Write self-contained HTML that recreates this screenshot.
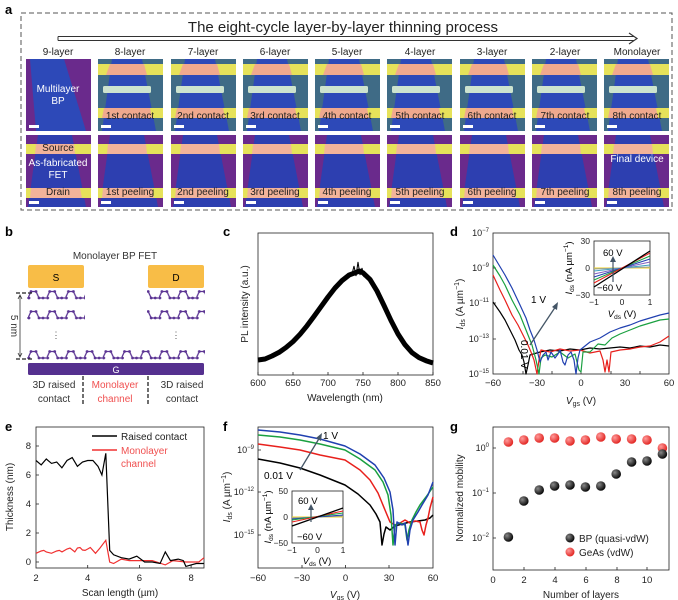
<!DOCTYPE html>
<html><head><meta charset="utf-8"><style>
html,body{margin:0;padding:0;background:#fff}
svg{display:block;font-family:"Liberation Sans",sans-serif}
</style></head><body>
<svg width="678" height="600" viewBox="0 0 678 600" xmlns="http://www.w3.org/2000/svg">
<defs>
<symbol id="topT" width="65" height="72" viewBox="0 0 65 72">
<rect width="65" height="72" fill="#3f6b86"/>
<path d="M14 0 L44 0 L58 72 L4 72 Z" fill="#2d49b8"/>
<rect y="5" width="65" height="11" fill="#e6e25a"/>
<path d="M12 5 H46 L49 16 H8 Z" fill="#f0a98e"/>
<rect x="5" y="27" width="48" height="7" rx="1.5" fill="#cde3cf"/>
<rect y="49" width="65" height="10" fill="#e6e25a"/>
<path d="M6 49 H52 L54 59 H4 Z" fill="#f0a98e"/>
<rect x="3" y="66" width="10" height="3" fill="#fff"/>
</symbol>
<symbol id="botT" width="65" height="72" viewBox="0 0 65 72">
<rect width="65" height="72" fill="#6a2a8c"/>
<path d="M12 0 L46 0 L60 72 L2 72 Z" fill="#2d3fb0"/>
<rect y="9" width="65" height="10" fill="#e6e25a"/>
<path d="M10 9 H48 L49 19 H9 Z" fill="#f2b39a"/>
<rect y="53" width="65" height="10" fill="#e6e25a"/>
<path d="M5 53 H54 L56 63 H4 Z" fill="#f2b39a"/>
<rect x="3" y="66" width="10" height="3" fill="#fff"/>
</symbol>
<symbol id="top9" width="65" height="72" viewBox="0 0 65 72">
<rect width="65" height="72" fill="#6a2a8c"/>
<path d="M4 0 L38 0 L60 72 L10 72 Z" fill="#2d49b8"/>
<rect x="3" y="66" width="10" height="3" fill="#fff"/>
</symbol>
<pattern id="lat" x="28" y="0" width="18.7" height="10" patternUnits="userSpaceOnUse">
<path d="M0 8 L3 1.5 L8 1.5 L11 8 L18.7 8" fill="none" stroke="#5b3493" stroke-width="1.3"/>
<circle cx="1" cy="8" r="1.4" fill="#5b3493"/><circle cx="3" cy="1.5" r="1.4" fill="#5b3493"/><circle cx="8" cy="1.5" r="1.4" fill="#5b3493"/><circle cx="11" cy="8" r="1.4" fill="#5b3493"/><circle cx="15" cy="8" r="1.4" fill="#5b3493"/>
</pattern>
<radialGradient id="gb" cx="0.35" cy="0.35" r="0.7"><stop offset="0" stop-color="#888"/><stop offset="1" stop-color="#000"/></radialGradient>
<radialGradient id="gr" cx="0.35" cy="0.35" r="0.7"><stop offset="0" stop-color="#ff9a9a"/><stop offset="1" stop-color="#e0201c"/></radialGradient>
</defs>

<!-- Panel a -->
<text x="5" y="14" font-size="13" font-weight="bold">a</text>
<rect x="21" y="13" width="651" height="197" fill="none" stroke="#555" stroke-width="1" stroke-dasharray="5,3"/>
<text x="343" y="32" font-size="15" text-anchor="middle" fill="#222">The eight-cycle layer-by-layer thinning process</text>
<path d="M58 36.5 H634 M58 40.5 H634 M58 36.5 V40.5" stroke="#333" stroke-width="1" fill="none"/>
<path d="M629 33 L637 38.5 L629 44" stroke="#333" stroke-width="1.2" fill="none"/>
<g font-size="10" text-anchor="middle" fill="#222">
<text x="58" y="55">9-layer</text><text x="130" y="55">8-layer</text><text x="203" y="55">7-layer</text><text x="275" y="55">6-layer</text><text x="347" y="55">5-layer</text><text x="420" y="55">4-layer</text><text x="492" y="55">3-layer</text><text x="565" y="55">2-layer</text><text x="637" y="55">Monolayer</text>
</g>
<use href="#top9" x="26" y="59" width="65" height="72"/>
<use href="#botT" x="26" y="135" width="65" height="72"/>
<g>
<use href="#topT" x="98" y="59"/><use href="#topT" x="171" y="59"/><use href="#topT" x="243" y="59"/><use href="#topT" x="315" y="59"/><use href="#topT" x="387" y="59"/><use href="#topT" x="460" y="59"/><use href="#topT" x="532" y="59"/><use href="#topT" x="604" y="59"/>
<use href="#botT" x="98" y="135"/><use href="#botT" x="171" y="135"/><use href="#botT" x="243" y="135"/><use href="#botT" x="315" y="135"/><use href="#botT" x="387" y="135"/><use href="#botT" x="460" y="135"/><use href="#botT" x="532" y="135"/><use href="#botT" x="604" y="135"/>
</g>
<g font-size="10" fill="#fff" text-anchor="middle">
<text x="58" y="92">Multilayer</text><text x="58" y="104">BP</text>
<text x="637" y="162">Final device</text>
</g>
<g font-size="10" fill="#222" text-anchor="middle">
<text x="58" y="151">Source</text>
<text x="58" y="166" fill="#fff">As-fabricated</text><text x="58" y="178" fill="#fff">FET</text>
<text x="58" y="195">Drain</text>
<text x="130" y="119">1st contact</text><text x="203" y="119">2nd contact</text><text x="275" y="119">3rd contact</text><text x="347" y="119">4th contact</text><text x="420" y="119">5th contact</text><text x="492" y="119">6th contact</text><text x="565" y="119">7th contact</text><text x="637" y="119">8th contact</text>
<text x="130" y="195">1st peeling</text><text x="203" y="195">2nd peeling</text><text x="275" y="195">3rd peeling</text><text x="347" y="195">4th peeling</text><text x="420" y="195">5th peeling</text><text x="492" y="195">6th peeling</text><text x="565" y="195">7th peeling</text><text x="637" y="195">8th peeling</text>
</g>

<!-- Panel b -->
<text x="5" y="236" font-size="13" font-weight="bold">b</text>
<text x="115" y="259" font-size="10" text-anchor="middle" fill="#333">Monolayer BP FET</text>
<rect x="28" y="265" width="56" height="23" rx="2" fill="#f8bd47"/>
<rect x="148" y="265" width="56" height="23" rx="2" fill="#f8bd47"/>
<text x="56" y="281" font-size="10" text-anchor="middle">S</text>
<text x="176" y="281" font-size="10" text-anchor="middle">D</text>
<g>
<rect x="27" y="290" width="58" height="10" fill="url(#lat)"/>
<rect x="27" y="310" width="58" height="10" fill="url(#lat)"/>
<rect x="147" y="290" width="58" height="10" fill="url(#lat)"/>
<rect x="147" y="310" width="58" height="10" fill="url(#lat)"/>
<rect x="27" y="350" width="178" height="10" fill="url(#lat)"/>
</g>
<text x="56" y="338" font-size="9" text-anchor="middle" fill="#555">⋮</text>
<text x="176" y="338" font-size="9" text-anchor="middle" fill="#555">⋮</text>
<rect x="28" y="363" width="176" height="12" rx="1.5" fill="#55308f"/>
<text x="116" y="373" font-size="9" text-anchor="middle" fill="#fff">G</text>
<path d="M16 293 H34 M16 359 H34" stroke="#222" stroke-width="1.3" stroke-dasharray="4,2"/>
<path d="M20 296 V356 M18 299 L20 295 L22 299 M18 353 L20 357 L22 353" stroke="#333" fill="none" stroke-width="0.8"/>
<text transform="translate(14,326) rotate(90)" font-size="10" text-anchor="middle" fill="#333" dy="3">5 nm</text>
<path d="M83 376 V405 M148 376 V405" stroke="#222" stroke-width="1.3" stroke-dasharray="4,2"/>
<g font-size="10" text-anchor="middle" fill="#333">
<text x="54" y="388">3D raised</text><text x="54" y="402">contact</text>
<text x="182" y="388">3D raised</text><text x="182" y="402">contact</text>
<text x="115" y="388" fill="#f05050">Monolayer</text><text x="115" y="402" fill="#f05050">channel</text>
</g>

<!-- Panel c -->
<text x="223" y="236" font-size="13" font-weight="bold">c</text>
<rect x="258" y="233" width="175" height="142" fill="none" stroke="#222" stroke-width="0.8"/>
<g stroke="#222" stroke-width="0.8"><path d="M258 375 v-3 M293 375 v-3 M328 375 v-3 M363 375 v-3 M398 375 v-3 M433 375 v-3"/></g>
<g font-size="9.5" text-anchor="middle" fill="#222">
<text x="258" y="386">600</text><text x="293" y="386">650</text><text x="328" y="386">700</text><text x="363" y="386">750</text><text x="398" y="386">800</text><text x="433" y="386">850</text>
<text x="345" y="401" font-size="10">Wavelength (nm)</text>
</g>
<text transform="translate(248,304) rotate(-90)" font-size="10" text-anchor="middle" fill="#222">PL intensity (a.u.)</text>
<polyline fill="none" stroke="#000" stroke-width="5" stroke-linejoin="round" points="258,360 265,359 272,356 279,352.4 286,347.5 293,341.6 300,334.3 307,325.8 314,316.4 321,306.7 328,297 335,288 342,280.6 349,275.1 356,272.4 359.5,271 363,272.8 370,279.4 377,291 384,305.5 391,320.5 398,334 405,344.7 412,352.6 419,357.6 426,360.7 433,363"/>
<polyline fill="none" stroke="#000" stroke-width="1" points="352,274 354,266 356,276 358,262 360,275 362,268 364,277"/>

<!-- Panel d -->
<text x="450" y="236" font-size="13" font-weight="bold">d</text>
<rect x="493" y="233" width="176" height="141" fill="none" stroke="#222" stroke-width="0.8"/>
<g stroke="#222" stroke-width="0.8"><path d="M493 268 h3 M493 303 h3 M493 339 h3 M523 374 v-3 M552 374 v-3 M581 374 v-3 M611 374 v-3 M640 374 v-3"/></g>
<g font-size="9" text-anchor="end" fill="#222">
<text x="489" y="236">10<tspan font-size="6" dy="-4">−7</tspan></text>
<text x="489" y="271">10<tspan font-size="6" dy="-4">−9</tspan></text>
<text x="489" y="306">10<tspan font-size="6" dy="-4">−11</tspan></text>
<text x="489" y="342">10<tspan font-size="6" dy="-4">−13</tspan></text>
<text x="489" y="377">10<tspan font-size="6" dy="-4">−15</tspan></text>
</g>
<g font-size="9.5" text-anchor="middle" fill="#222">
<text x="493" y="386">−60</text><text x="537" y="386">−30</text><text x="581" y="386">0</text><text x="625" y="386">30</text><text x="669" y="386">60</text>
<text x="581" y="404" font-size="10"><tspan font-style="italic">V</tspan><tspan font-size="7" dy="2">gs</tspan><tspan dy="-2"> (V)</tspan></text>
</g>
<text transform="translate(463,304) rotate(-90)" font-size="10" text-anchor="middle" fill="#222"><tspan font-style="italic">I</tspan><tspan font-size="7" dy="2">ds</tspan><tspan dy="-2"> (A µm</tspan><tspan font-size="7" dy="-4">−1</tspan><tspan dy="4">)</tspan></text>
<g fill="none" stroke-width="1.2" stroke-linejoin="round">
<polyline stroke="#000" points="493,302 500,312 505,320 510,330 515,340 519,350 522,355 524,362 526,374 528,365 530,355 540,352 550,350 560,351 570,349 580,350 590,348 600,349 610,348 620,347 630,348 640,346 650,347 660,345 669,346"/>
<polyline stroke="#e8201c" points="493,275 500,290 505,300 512,315 518,325 523,335 528,345 531,352 534,360 537,374 539,360 541,350 550,352 560,349 570,351 580,350 590,353 600,351 603,360 605,372 607,360 609,372 611,352 620,350 630,349 640,347 650,346 660,342 669,336"/>
<polyline stroke="#1aa040" points="493,265 500,276 505,285 512,300 520,315 526,330 532,345 536,360 539,374 541,358 545,355 552,357 560,352 568,358 575,354 579,370 581,372 583,352 590,352 598,344 605,345 612,338 620,334 630,330 640,326 650,323 660,320 669,319"/>
<polyline stroke="#2040b0" points="493,255 499,265 505,275 512,288 520,305 526,318 530,330 534,340 537,350 540,362 543,355 546,352 548,360 551,352 555,358 558,354 560,350 563,362 565,365 568,355 571,352 574,360 576,374 578,358 580,350 585,346 590,342 600,338 610,332 620,328 630,325 640,321 650,318 660,315 669,313"/>
</g>
<path d="M530 345 L556 306" stroke="#456" stroke-width="1.3"/>
<path d="M552 307 L558 302 L557 310 Z" fill="#456"/>
<text x="531" y="303" font-size="10">1 V</text>
<text transform="translate(521,340) rotate(90)" font-size="10">0.01 V</text>
<!-- inset d -->
<rect x="594" y="241" width="56" height="54" fill="#fff" stroke="#222" stroke-width="0.8"/>
<g fill="none" stroke-width="1">
<line x1="594" y1="268" x2="650" y2="268" stroke="#f0d020"/>
<line x1="594" y1="269" x2="650" y2="267" stroke="#90a0a0"/>
<line x1="594" y1="271" x2="650" y2="265" stroke="#40a0c0"/>
<line x1="594" y1="274" x2="650" y2="262" stroke="#8060c0"/>
<line x1="594" y1="277" x2="650" y2="259" stroke="#2040b0"/>
<line x1="594" y1="280" x2="650" y2="256" stroke="#1aa040"/>
<line x1="594" y1="283" x2="650" y2="253" stroke="#e8201c"/>
<line x1="594" y1="287" x2="650" y2="251" stroke="#000" stroke-width="1.3"/>
</g>
<path d="M613 282 L613 260" stroke="#456" stroke-width="1.2"/><path d="M610 262 L613 256 L616 262 Z" fill="#456"/>
<text x="603" y="256" font-size="9.5">60 V</text>
<text x="597" y="291" font-size="9.5">−60 V</text>
<g font-size="8.5" text-anchor="end" fill="#222"><text x="590" y="244">30</text><text x="590" y="271">0</text><text x="590" y="298">−30</text></g>
<g font-size="8.5" text-anchor="middle" fill="#222"><text x="594" y="305">−1</text><text x="622" y="305">0</text><text x="650" y="305">1</text></g>
<text x="622" y="317" font-size="9.5" text-anchor="middle"><tspan font-style="italic">V</tspan><tspan font-size="6.5" dy="2">ds</tspan><tspan dy="-2"> (V)</tspan></text>
<text transform="translate(572,268) rotate(-90)" font-size="9.5" text-anchor="middle"><tspan font-style="italic">I</tspan><tspan font-size="6.5" dy="2">ds</tspan><tspan dy="-2"> (nA µm</tspan><tspan font-size="6.5" dy="-4">−1</tspan><tspan dy="4">)</tspan></text>

<!-- Panel e -->
<text x="5" y="431" font-size="13" font-weight="bold">e</text>
<rect x="36" y="427" width="168" height="141" fill="none" stroke="#222" stroke-width="0.8"/>
<g font-size="9.5" fill="#222" text-anchor="end">
<text x="31" y="449">8</text><text x="31" y="478">6</text><text x="31" y="507">4</text><text x="31" y="536">2</text><text x="31" y="565">0</text>
</g>
<g stroke="#222" stroke-width="0.8"><path d="M36 446 h3 M36 475 h3 M36 504 h3 M36 533 h3 M36 562 h3 M87.7 568 v-3 M139.4 568 v-3 M191.1 568 v-3"/></g>
<g font-size="9.5" text-anchor="middle" fill="#222">
<text x="36" y="581">2</text><text x="87.7" y="581">4</text><text x="139.4" y="581">6</text><text x="191.1" y="581">8</text>
<text x="120" y="596" font-size="10">Scan length (µm)</text>
</g>
<text transform="translate(13,497) rotate(-90)" font-size="10" text-anchor="middle" fill="#222">Thickness (nm)</text>
<polyline fill="none" stroke="#f03030" stroke-width="1.2" points="36,553.3 41.2,551 43.8,550.4 46.3,552 51.5,553.3 56.7,551 59.3,550.4 62,551.9 67,549 70,548 74.8,551.9 77.4,548 80,547.5 82.5,550 85.1,550.4 87.7,549 90.3,547.5 95.5,553.3 100,548 105.8,540.3 109.7,562 113.6,563.5 121.3,559.1 129.1,560.6 139.4,560.6 152.3,560.6 165.3,564.9 173,560.6 185.9,562 198.8,562 204,557.7"/>
<polyline fill="none" stroke="#000" stroke-width="1.2" points="36,460.5 41.2,464.9 46.3,459 51.5,463.4 56.7,462 61.9,467.8 67,460.5 72.2,457.6 77.4,466.3 82.5,462 87.7,460.5 92.9,460.5 98,466.3 101.9,475 105.8,453.3 109.7,550.4 113.6,554.8 121.3,557.7 129.1,559.1 136.8,556.2 144.6,562 152.3,562 160.1,563.5 165.3,551.9 170.4,560.6 178.2,559.1 183.3,560.6 185.9,566.4 191.1,564.9 196.3,563.5 204,563.5"/>
<line x1="92" y1="436" x2="117" y2="436" stroke="#000" stroke-width="1.5"/>
<line x1="92" y1="450" x2="117" y2="450" stroke="#f03030" stroke-width="1.5"/>
<g font-size="10"><text x="121" y="440" fill="#222">Raised contact</text><text x="121" y="454" fill="#f05050">Monolayer</text><text x="121" y="467" fill="#f05050">channel</text></g>

<!-- Panel f -->
<text x="223" y="431" font-size="13" font-weight="bold">f</text>
<rect x="258" y="427" width="175" height="141" fill="none" stroke="#222" stroke-width="0.8"/>
<g stroke="#222" stroke-width="0.8"><path d="M258 450 h3 M258 492 h3 M258 535 h3 M302 568 v-3 M345.5 568 v-3 M389 568 v-3"/></g>
<g font-size="9" text-anchor="end" fill="#222">
<text x="254" y="453">10<tspan font-size="6" dy="-4">−9</tspan></text>
<text x="254" y="495">10<tspan font-size="6" dy="-4">−12</tspan></text>
<text x="254" y="538">10<tspan font-size="6" dy="-4">−15</tspan></text>
</g>
<g font-size="9.5" text-anchor="middle" fill="#222">
<text x="258" y="581">−60</text><text x="302" y="581">−30</text><text x="345.5" y="581">0</text><text x="389" y="581">30</text><text x="433" y="581">60</text>
<text x="345" y="598" font-size="10"><tspan font-style="italic">V</tspan><tspan font-size="7" dy="2">gs</tspan><tspan dy="-2"> (V)</tspan></text>
</g>
<text transform="translate(230,497) rotate(-90)" font-size="10" text-anchor="middle" fill="#222"><tspan font-style="italic">I</tspan><tspan font-size="7" dy="2">ds</tspan><tspan dy="-2"> (A µm</tspan><tspan font-size="7" dy="-4">−1</tspan><tspan dy="4">)</tspan></text>
<g fill="none" stroke-width="1.5" stroke-linejoin="round">
<polyline stroke="#000" points="258,459 280,463 300,468 320,475 345,485 358,494 370,505 376,514 380,522 382,545 384,534 386,527 390,530 395,526 402,524 410,522 418,521 425,520 430,518 433,515"/>
<polyline stroke="#e8201c" points="258,444 280,447 300,450 320,455 345,460 360,470 370,480 378,493 385,510 390,522 395,525 400,523 405,520 410,523 415,521 420,522 422,530 424,535 426,525 428,518 430,508 433,497"/>
<polyline stroke="#1aa040" points="258,435 280,437 300,440 320,444 345,450 360,459 375,470 383,482 388,495 391,515 393,545 395,525 400,523 405,525 407,540 409,530 412,520 416,512 420,505 426,497 433,487"/>
<polyline stroke="#2040b0" points="258,430 280,432 300,435 320,439 345,446 360,454 375,465 384,478 390,492 393,510 395,545 397,522 402,525 405,523 408,545 410,530 413,520 418,512 422,505 428,495 433,482"/>
</g>
<path d="M300 470 L320 437" stroke="#456" stroke-width="1.3"/><path d="M316 438 L322 433 L321 441 Z" fill="#456"/>
<text x="323" y="439" font-size="10">1 V</text>
<text x="264" y="479" font-size="10">0.01 V</text>
<!-- inset f -->
<rect x="292" y="491" width="51" height="52" fill="#fff" stroke="#222" stroke-width="0.8"/>
<g fill="none" stroke-width="1">
<line x1="292" y1="517" x2="343" y2="517" stroke="#f0d020"/>
<line x1="292" y1="518" x2="343" y2="516" stroke="#90a0a0"/>
<line x1="292" y1="519" x2="343" y2="515" stroke="#2040b0"/>
<line x1="292" y1="520" x2="343" y2="513" stroke="#1aa040"/>
<line x1="292" y1="522" x2="343" y2="511" stroke="#e8201c"/>
<line x1="292" y1="526" x2="343" y2="508" stroke="#000" stroke-width="1.3"/>
</g>
<path d="M311 522 L311 508" stroke="#456" stroke-width="1.2"/><path d="M308 510 L311 504 L314 510 Z" fill="#456"/>
<text x="298" y="504" font-size="9.5">60 V</text>
<text x="297" y="540" font-size="9.5">−60 V</text>
<g font-size="8.5" text-anchor="end" fill="#222"><text x="288" y="494">50</text><text x="288" y="520">0</text><text x="288" y="546">−50</text></g>
<g font-size="8.5" text-anchor="middle" fill="#222"><text x="292" y="553">−1</text><text x="317.5" y="553">0</text><text x="343" y="553">1</text></g>
<text x="317" y="564" font-size="9.5" text-anchor="middle"><tspan font-style="italic">V</tspan><tspan font-size="6.5" dy="2">ds</tspan><tspan dy="-2"> (V)</tspan></text>
<text transform="translate(271,517) rotate(-90)" font-size="9.5" text-anchor="middle"><tspan font-style="italic">I</tspan><tspan font-size="6.5" dy="2">ds</tspan><tspan dy="-2"> (nA µm</tspan><tspan font-size="6.5" dy="-4">−1</tspan><tspan dy="4">)</tspan></text>

<!-- Panel g -->
<text x="450" y="431" font-size="13" font-weight="bold">g</text>
<rect x="493" y="427" width="176" height="143" fill="none" stroke="#222" stroke-width="0.8"/>
<g stroke="#222" stroke-width="0.8"><path d="M493 448 h3 M493 493 h3 M493 538 h3 M524 570 v-3 M555 570 v-3 M586 570 v-3 M617 570 v-3 M647 570 v-3"/></g>
<g font-size="9" text-anchor="end" fill="#222">
<text x="489" y="451">10<tspan font-size="6" dy="-4">0</tspan></text>
<text x="489" y="496">10<tspan font-size="6" dy="-4">−1</tspan></text>
<text x="489" y="541">10<tspan font-size="6" dy="-4">−2</tspan></text>
</g>
<g font-size="9.5" text-anchor="middle" fill="#222">
<text x="493" y="583">0</text><text x="524" y="583">2</text><text x="555" y="583">4</text><text x="586" y="583">6</text><text x="617" y="583">8</text><text x="647" y="583">10</text>
<text x="581" y="598" font-size="10">Number of layers</text>
</g>
<text transform="translate(463,498) rotate(-90)" font-size="10" text-anchor="middle" fill="#222">Normalized mobility</text>
<g fill="url(#gr)">
<circle cx="508.4" cy="442" r="4.8"/><circle cx="523.8" cy="440" r="4.8"/><circle cx="539.2" cy="438" r="4.8"/><circle cx="554.6" cy="438" r="4.8"/><circle cx="570" cy="441" r="4.8"/><circle cx="585.4" cy="440" r="4.8"/><circle cx="600.8" cy="437" r="4.8"/><circle cx="616.2" cy="439" r="4.8"/><circle cx="631.6" cy="439" r="4.8"/><circle cx="647" cy="440" r="4.8"/><circle cx="662.4" cy="448" r="4.8"/>
</g>
<g fill="url(#gb)">
<circle cx="508.4" cy="537" r="4.8"/><circle cx="523.8" cy="501" r="4.8"/><circle cx="539.2" cy="490" r="4.8"/><circle cx="554.6" cy="486" r="4.8"/><circle cx="570" cy="485" r="4.8"/><circle cx="585.4" cy="487" r="4.8"/><circle cx="600.8" cy="486" r="4.8"/><circle cx="616.2" cy="474" r="4.8"/><circle cx="631.6" cy="462" r="4.8"/><circle cx="647" cy="461" r="4.8"/><circle cx="662.4" cy="454" r="4.8"/>
</g>
<circle cx="570" cy="538" r="4.5" fill="url(#gb)"/>
<circle cx="570" cy="552" r="4.5" fill="url(#gr)"/>
<g font-size="10" fill="#222"><text x="579" y="542">BP (quasi-vdW)</text><text x="579" y="556">GeAs (vdW)</text></g>
</svg>
</body></html>
